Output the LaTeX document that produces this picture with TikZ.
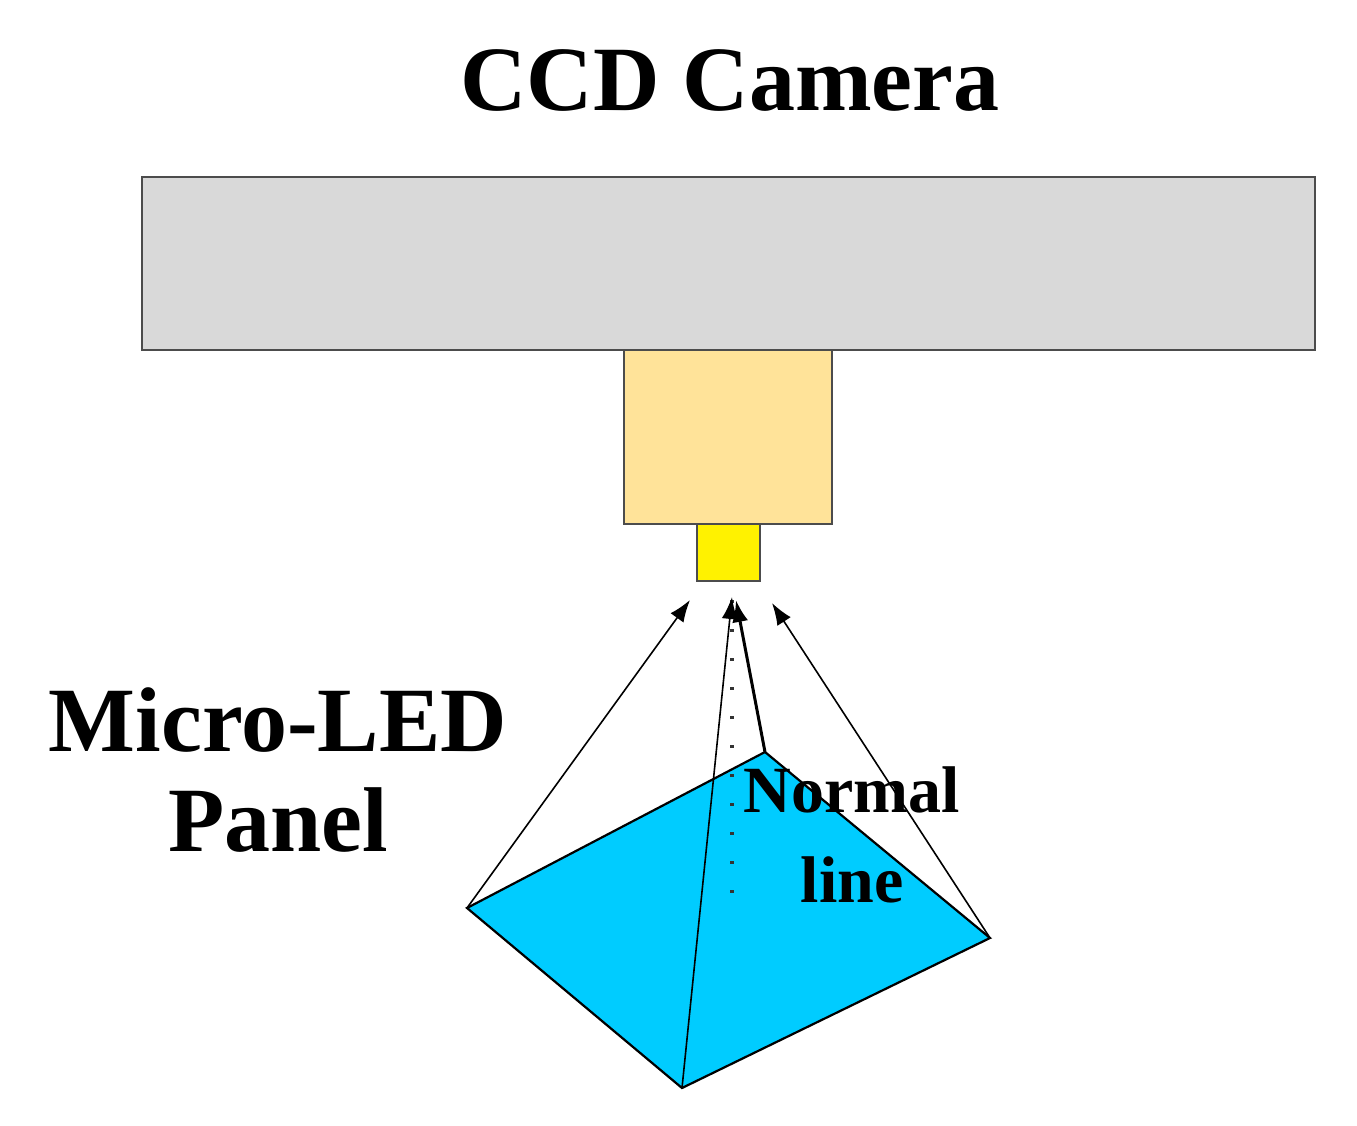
\documentclass[tikz,border=0pt]{standalone}
\usepackage{fontspec}
\setmainfont{Liberation Serif}
\usetikzlibrary{arrows.meta}
\definecolor{camgray}{RGB}{217,217,217}
\definecolor{lensc}{RGB}{255,227,153}
\definecolor{panelc}{RGB}{0,204,255}
\begin{document}
\begin{tikzpicture}[x=1pt,y=-1pt,
 box/.style={draw=black!70,line width=2.5pt},
 ray/.style={draw=black,line width=1.6pt,-{Latex[length=22pt,width=16pt]}},
 lbl/.style={font=\bfseries,inner sep=0pt}]
\useasboundingbox (0,0) rectangle (1357,1126);
\draw[box,fill=camgray] (142,177) rectangle (1315,350);
\draw[box,fill=lensc] (624,350) rectangle (832,524);
\draw[box,fill=yellow] (697,524) rectangle (760,581);
\node[lbl,font=\bfseries\fontsize{92}{92}\selectfont] (cam) at (730,80) {CCD Camera};
\node[lbl,font=\bfseries\fontsize{92}{100}\selectfont,align=center] (mic) at (278,770) {Micro-LED\\Panel};
\coordinate (L) at (467,908);
\coordinate (T) at (765,752);
\coordinate (R) at (990,938);
\coordinate (B) at (682,1088);
\fill[panelc] (L)--(T)--(R)--(B)--cycle;
\draw[line width=2.2pt] (L)--(T)--(R)--(B)--cycle;
\draw[line width=4pt,dash pattern=on 3pt off 26pt,black!80] (732,600)--(732,905);
\coordinate (a1) at (690,600);
\coordinate (a2) at (732,597);
\coordinate (a3) at (736,600);
\coordinate (a4) at (772,603);
\draw[ray] (L)--(a1);
\draw[ray] (B)--(a2);
\draw[ray,line width=3pt] (T)--(a3);
\draw[ray] (R)--(a4);
\node[lbl,font=\bfseries\fontsize{66}{90}\selectfont,align=center] (nl) at (852,835) {Normal\\line};
\end{tikzpicture}
\end{document}
